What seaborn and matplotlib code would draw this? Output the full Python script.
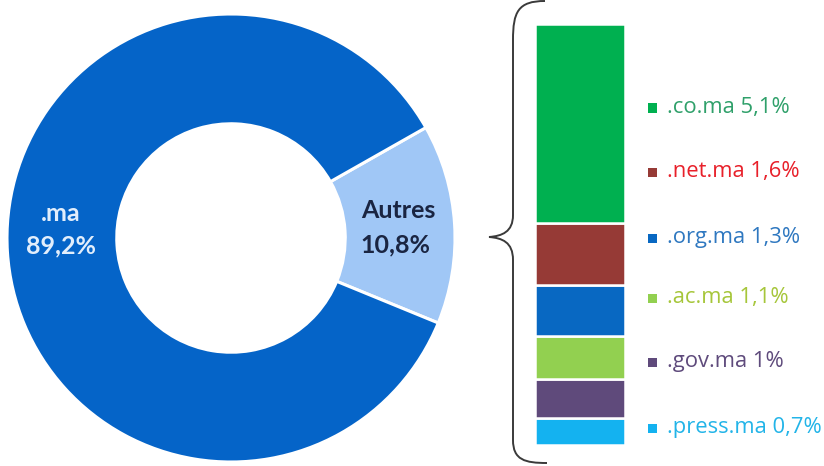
import matplotlib
matplotlib.use("Agg")
import matplotlib.pyplot as plt
import seaborn as sns
import numpy as np
from matplotlib.patches import Rectangle, PathPatch
from matplotlib.path import Path

# ---- data ----
donut_labels = [".ma", "Autres"]
donut_label_values = ["89,2%", "10,8%"]
donut_shares = [85.6, 14.4]          # wedge sizes as drawn in the reference
donut_colors = ["#0564C8", "#A0C7F6"]

sub_names = [".co.ma", ".net.ma", ".org.ma", ".ac.ma", ".gov.ma", ".press.ma"]
sub_values = [5.1, 1.6, 1.3, 1.1, 1.0, 0.7]
sub_value_text = ["5,1%", "1,6%", "1,3%", "1,1%", "1%", "0,7%"]
sub_colors = ["#00B050", "#963A36", "#0868C2", "#92D050", "#5F4A7B", "#14B2F0"]
sub_text_colors = ["#2FA06A", "#E8202A", "#2F78C0", "#A6C63A", "#5F4B7C", "#22B4E8"]

sns.set_theme(style="white")
plt.rcParams["font.family"] = ["Lato", "DejaVu Sans"]

W, H = 824, 466
fig = plt.figure(figsize=(W / 100, H / 100), dpi=100)
fig.patch.set_facecolor("white")

# ---- donut ----
cx, cy, R = 231, 238, 224
axd = fig.add_axes([(cx - R) / W, (H - cy - R) / H, 2 * R / W, 2 * R / H])
order = [1, 0]
wedges, _ = axd.pie([donut_shares[i] for i in order],
                    colors=[donut_colors[i] for i in order],
                    startangle=-22.3, counterclock=True, radius=1.0,
                    wedgeprops=dict(width=0.49, edgecolor="white", linewidth=2.2))
axd.set_xlim(-1, 1)
axd.set_ylim(-1, 1)
axd.set_aspect("equal")
axd.axis("off")

lab_kw = dict(ha="center", va="center", fontsize=18, fontweight="bold")
fig.text(61 / W, 1 - 214 / H, donut_labels[0], color="#E2EEFC", **lab_kw)
fig.text(61 / W, 1 - 246 / H, donut_label_values[0], color="#E2EEFC", **lab_kw)
fig.text(398 / W, 1 - 211 / H, donut_labels[1], color="#1A2542", **lab_kw)
fig.text(395 / W, 1 - 245 / H, donut_label_values[1], color="#1A2542", **lab_kw)

# ---- stacked bar ----
bx0, bx1, by0, by1 = 535, 625, 24, 445
axb = fig.add_axes([bx0 / W, (H - by1) / H, (bx1 - bx0) / W, (by1 - by0) / H])
bottom = 0.0
for name, v, c in list(zip(sub_names, sub_values, sub_colors))[::-1]:
    sns.barplot(x=[0], y=[v], bottom=bottom, color=c, ax=axb, width=1.0,
                edgecolor="white", linewidth=1.8, saturation=1)
    bottom += v
axb.set_ylim(0, sum(sub_values))
axb.set_xlim(-0.5, 0.5)
axb.axis("off")

# ---- legend ----
leg_y = [108, 172, 238, 298, 362, 428]
for name, txt, sc, tc, y in zip(sub_names, sub_value_text, sub_colors, sub_text_colors, leg_y):
    fig.patches.append(Rectangle((648 / W, (H - y - 4.5) / H), 9 / W, 9 / H,
                                 transform=fig.transFigure, facecolor=sc,
                                 edgecolor="none"))
    fig.text(667 / W, 1 - y / H, f"{name} {txt}", ha="left", va="center",
             fontsize=15.8, color=tc, family=["Open Sans", "DejaVu Sans"])

# ---- curly brace ----
def P(x, y):
    return (x / W, 1 - y / H)

verts = [P(545, 1), P(518, 1), P(513, 12), P(513, 40),
         P(513, 215), P(513, 232), P(502, 236), P(489, 237),
         P(502, 238), P(513, 242), P(513, 260),
         P(513, 440), P(513, 460), P(525, 463), P(547, 463)]
codes = [Path.MOVETO, Path.CURVE4, Path.CURVE4, Path.CURVE4,
         Path.LINETO, Path.CURVE4, Path.CURVE4, Path.CURVE4,
         Path.CURVE4, Path.CURVE4, Path.CURVE4,
         Path.LINETO, Path.CURVE4, Path.CURVE4, Path.CURVE4]
fig.patches.append(PathPatch(Path(verts, codes), transform=fig.transFigure,
                             facecolor="none", edgecolor="#3A3A3A", linewidth=1.4))

fig.savefig("out.png", dpi=100, facecolor="white")
